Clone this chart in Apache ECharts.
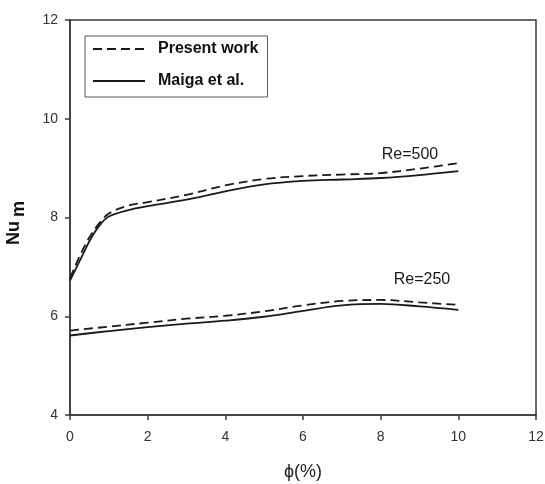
<!DOCTYPE html>
<html>
<head>
<meta charset="utf-8">
<script src="https://cdn.jsdelivr.net/npm/echarts@6/dist/echarts.min.js"></script>
<style>
  html, body { margin: 0; padding: 0; background: #fff; }
  #chart { width: 545px; height: 484px; }
</style>
</head>
<body>
<div id="chart"></div>
<script>
// Volume fraction phi (%) sampling points
const phiRe500 = [0, 0.25, 0.5, 0.75, 1, 1.5, 2, 3, 4, 5, 6, 7, 8, 9, 10];
const phiRe250 = [0, 1, 2, 3, 4, 5, 6, 7, 8, 9, 10];

// Mean Nusselt number, Re = 500
const presentRe500 = [6.77, 7.22, 7.60, 7.88, 8.08, 8.24, 8.31, 8.46, 8.65, 8.78, 8.84, 8.87, 8.90, 8.99, 9.10];
const maigaRe500   = [6.72, 7.12, 7.52, 7.83, 8.02, 8.15, 8.23, 8.36, 8.53, 8.67, 8.74, 8.77, 8.80, 8.86, 8.94];

// Mean Nusselt number, Re = 250
const presentRe250 = [5.71, 5.79, 5.87, 5.95, 6.01, 6.10, 6.22, 6.31, 6.33, 6.28, 6.23];
const maigaRe250   = [5.61, 5.70, 5.78, 5.85, 5.91, 5.99, 6.11, 6.22, 6.25, 6.20, 6.13];

const seriesNames = ['Present work', 'Maiga et al.'];
const curveLabels = ['Re=500', 'Re=250'];

const FONT = '"Liberation Sans", Arial, sans-serif';
const INK = '#1a1a1a';

function pairs(xs, ys) { return xs.map((x, i) => [x, ys[i]]); }

function curve(name, xs, ys, dashed) {
  return {
    type: 'line',
    name: name,
    data: pairs(xs, ys),
    smooth: 0.35,
    symbol: 'none',
    silent: true,
    lineStyle: { color: INK, width: 1.8, type: dashed ? [9, 5] : 'solid' },
    itemStyle: { color: INK }
  };
}

const chart = echarts.init(document.getElementById('chart'), null, { renderer: 'canvas' });

chart.setOption({
  animation: false,
  backgroundColor: '#fff',
  grid: {
    left: 70, right: 9, top: 20, bottom: 69,
    outerBoundsMode: 'none',
    containLabel: false,
    show: true, borderColor: '#3a3a3a', borderWidth: 1.5
  },
  legend: {
    data: seriesNames,
    orient: 'vertical',
    left: 85, top: 36,
    itemWidth: 52, itemHeight: 16, itemGap: 16,
    padding: [5, 9, 8, 7],
    borderColor: '#555', borderWidth: 1,
    selectedMode: false,
    // line-only keys: hide the default marker drawn on the key line
    itemStyle: { color: 'rgba(0,0,0,0)', borderWidth: 0, opacity: 0 },
    textStyle: { fontFamily: FONT, fontSize: 16, fontWeight: 'bold', color: '#111', padding: [0, 0, 0, 8] }
  },
  xAxis: {
    type: 'value', min: 0, max: 12, interval: 2,
    name: '\u03D5(%)', nameLocation: 'middle', nameGap: 48,
    nameTextStyle: { fontFamily: FONT, fontSize: 18, color: '#222' },
    axisLine: { lineStyle: { color: '#3a3a3a', width: 1.5 } },
    axisTick: { length: 5, inside: false, lineStyle: { color: '#3a3a3a', width: 1.5 } },
    axisLabel: { fontFamily: FONT, fontSize: 14, color: '#333', margin: 15 },
    splitLine: { show: false }
  },
  yAxis: {
    type: 'value', min: 4, max: 12, interval: 2,
    axisLine: { show: true, lineStyle: { color: '#3a3a3a', width: 1.5 } },
    axisTick: { show: true, length: 5, inside: false, lineStyle: { color: '#3a3a3a', width: 1.5 } },
    axisLabel: { fontFamily: FONT, fontSize: 14, color: '#333', margin: 12 },
    splitLine: { show: false }
  },
  graphic: [
    {
      type: 'group', x: 23, y: 220, rotation: Math.PI / 2,
      children: [
        { type: 'text', x: -13, y: 0, style: { text: 'Nu', font: 'bold 18px ' + FONT, fill: '#111', textAlign: 'center', textVerticalAlign: 'bottom' } },
        { type: 'text', x: 11, y: 5, style: { text: 'm', font: 'bold 18px ' + FONT, fill: '#111', textAlign: 'center', textVerticalAlign: 'bottom' } }
      ]
    },
    { type: 'text', x: 410, y: 155, style: { text: curveLabels[0], font: '16px ' + FONT, fill: '#1a1a1a', textAlign: 'center', textVerticalAlign: 'middle' } },
    { type: 'text', x: 422, y: 280, style: { text: curveLabels[1], font: '16px ' + FONT, fill: '#1a1a1a', textAlign: 'center', textVerticalAlign: 'middle' } }
  ],
  series: [
    curve(seriesNames[0], phiRe500, presentRe500, true),
    curve(seriesNames[1], phiRe500, maigaRe500, false),
    curve(seriesNames[0], phiRe250, presentRe250, true),
    curve(seriesNames[1], phiRe250, maigaRe250, false)
  ]
});
</script>
</body>
</html>
